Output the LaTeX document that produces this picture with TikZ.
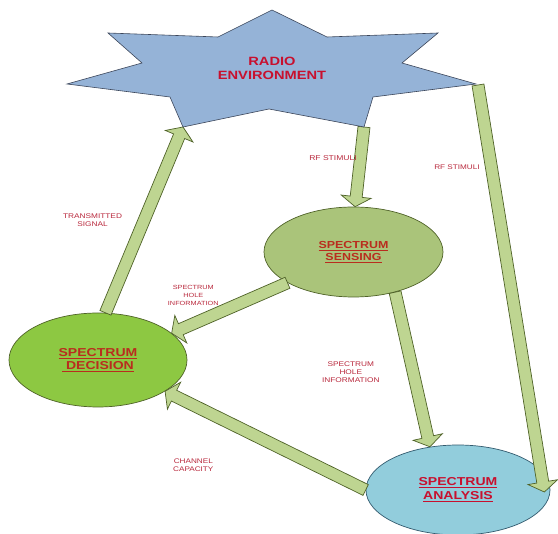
\documentclass[tikz,border=0pt]{standalone}
\usepackage{fontspec}
\setmainfont{Liberation Sans}
\newfontfamily\wfont[FakeStretch=1.22]{Liberation Sans}
\usetikzlibrary{shapes.geometric,calc}
\definecolor{starfill}{RGB}{149,179,215}
\definecolor{starline}{RGB}{60,70,90}
\definecolor{sensefill}{RGB}{170,196,122}
\definecolor{decfill}{RGB}{141,200,66}
\definecolor{anafill}{RGB}{146,205,220}
\definecolor{greenline}{RGB}{79,98,40}
\definecolor{blueline}{RGB}{50,90,110}
\definecolor{arrfill}{RGB}{190,213,145}
\definecolor{titlered}{RGB}{200,16,46}
\definecolor{boxred}{RGB}{185,45,30}
\definecolor{labred}{RGB}{185,40,60}
\newcommand\ulx[1]{\leavevmode\vtop{\hbox{#1}\kern1.2pt\hrule height 0.8pt}}
\tikzset{
  arrowstyle/.style={fill=arrfill, draw=greenline, line width=0.7pt, line join=miter},
  blob/.style={ellipse, draw=greenline, line width=0.7pt, inner sep=0pt, align=center},
  lab/.style={inner sep=0pt, align=center, text=labred},
}
\newcommand\blockarrow[2]{%
  \coordinate (ha) at ($(#2)!10pt!(#1)$);
  \filldraw[arrowstyle] ($(#1)!6pt!90:(#2)$) -- ($(ha)!6pt!-90:(#1)$) -- ($(ha)!15pt!-90:(#1)$) -- (#2)
    -- ($(ha)!15pt!90:(#1)$) -- ($(ha)!6pt!90:(#1)$) -- ($(#1)!6pt!-90:(#2)$) -- cycle;
}
\begin{document}
\begin{tikzpicture}[x=1pt,y=-1pt]
\fill[white] (0,0) rectangle (558,534);
\useasboundingbox (0,0) rectangle (558,534);
% star vertices
\coordinate (pT) at (272,10);
\coordinate (i1) at (327,37);
\coordinate (pUR) at (438,33);
\coordinate (i2) at (402,63);
\coordinate (pR) at (476,84);
\coordinate (i3) at (373,97);
\coordinate (pLR) at (364,127);
\coordinate (i4) at (269,109);
\coordinate (pLL) at (183,127);
\coordinate (i5) at (170,97);
\coordinate (pL) at (67,84);
\coordinate (i6) at (142,63);
\coordinate (pUL) at (108,33);
\coordinate (i7) at (218,37);
% ellipses
\node[blob, fill=sensefill, minimum width=179pt, minimum height=90pt, text=boxred,
      font=\wfont\bfseries\fontsize{10.2}{12}\selectfont] (sense) at (353.5,252)
      {\ulx{SPECTRUM}\\\ulx{SENSING}};
\node[blob, fill=decfill, minimum width=178pt, minimum height=94pt, text=boxred,
      font=\wfont\bfseries\fontsize{11.5}{13.5}\selectfont] (dec) at (98,360)
      {\ulx{SPECTRUM}\\\ulx{\ DECISION}};
\node[blob, draw=blueline, fill=anafill, minimum width=184pt, minimum height=90pt, text=titlered,
      font=\wfont\bfseries\fontsize{11.5}{14}\selectfont] (ana) at (458,490)
      {\ulx{SPECTRUM}\\\ulx{ANALYSIS}};
% arrows
\coordinate (rtip) at ($(ana.east)+(-6,2)$);
\coordinate (rstart) at ($(pR)+(2,1)$);
\blockarrow{pLR}{sense.88}
\blockarrow{rstart}{rtip}
\blockarrow{sense.-44}{ana.123}
\blockarrow{sense.205}{dec.20}
\blockarrow{ana.west}{dec.-25}
\blockarrow{dec.81}{pLL}
% star
\filldraw[fill=starfill, draw=starline, line width=0.6pt, line join=miter]
  (pT) -- (i1) -- (pUR) -- (i2) -- (pR) -- (i3) -- (pLR) -- (i4) -- (pLL) -- (i5)
  -- (pL) -- (i6) -- (pUL) -- (i7) -- cycle;
\node[inner sep=0pt, align=center, text=titlered,
      font=\wfont\bfseries\fontsize{12}{14}\selectfont] (env) at (272,68) {RADIO\\ENVIRONMENT};
% labels
\node[lab, font=\wfont\fontsize{7}{8}\selectfont] (rf1) at (333,158) {RF STIMULI};
\node[lab, font=\wfont\fontsize{6.7}{8}\selectfont] (rf2) at (457,167) {RF STIMULI};
\node[lab, font=\wfont\fontsize{6.8}{8.6}\selectfont] (tx) at (92.5,220) {TRANSMITTED\\SIGNAL};
\node[lab, font=\wfont\fontsize{6}{8}\selectfont] (shi1) at (193.3,295) {SPECTRUM\\HOLE\\INFORMATION};
\node[lab, font=\wfont\fontsize{6.8}{8}\selectfont] (shi2) at (350.8,372) {SPECTRUM\\HOLE\\INFORMATION};
\node[lab, font=\wfont\fontsize{6.7}{8.3}\selectfont] (cc) at (193.3,465) {CHANNEL\\CAPACITY};
\end{tikzpicture}
\end{document}
